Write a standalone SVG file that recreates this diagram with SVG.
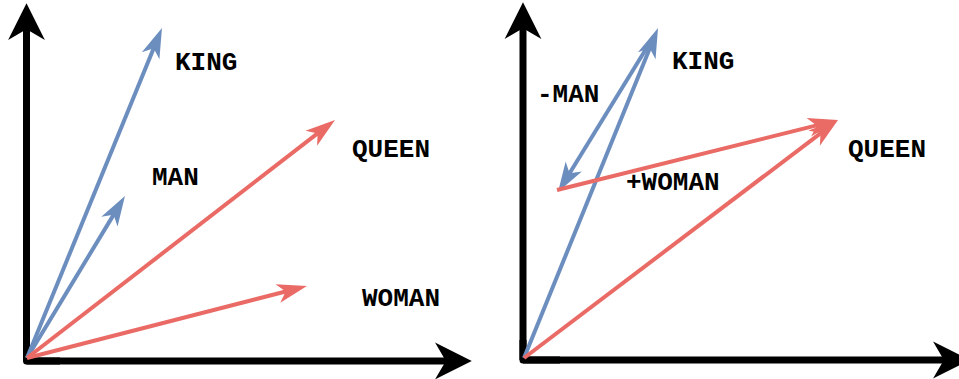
<svg xmlns="http://www.w3.org/2000/svg" width="959" height="379" viewBox="0 0 959 379">
<style>
.lbl{font-family:"Liberation Mono","Courier New",monospace;font-weight:bold;font-size:26px;fill:#000}
.axis{fill:none;stroke:#000;stroke-width:7;stroke-linejoin:round}
.blue{stroke:#6C8EBF;stroke-width:4;fill:none}
.red{stroke:#EA6B66;stroke-width:4;fill:none}
</style>
<defs>
<marker id="axHead" markerUnits="userSpaceOnUse" orient="auto" markerWidth="40" markerHeight="40" refX="12" refY="0" viewBox="-1 -18 37 36" overflow="visible">
<path d="M34,0 L0,-17 L10,0 L0,17 Z" fill="#000"/>
</marker>
<marker id="bHead" markerUnits="userSpaceOnUse" orient="auto" markerWidth="32" markerHeight="22" refX="10" refY="0" viewBox="-1 -11 32 22" overflow="visible">
<path d="M30,0 L0,-9.5 L8,0 L0,9.5 Z" fill="#6C8EBF"/>
</marker>
<marker id="rHead" markerUnits="userSpaceOnUse" orient="auto" markerWidth="32" markerHeight="22" refX="10" refY="0" viewBox="-1 -11 32 22" overflow="visible">
<path d="M30,0 L0,-9.5 L8,0 L0,9.5 Z" fill="#EA6B66"/>
</marker>
</defs>
<g id="axes-left">
<line class="axis" x1="26.5" y1="361" x2="26.5" y2="27" marker-end="url(#axHead)"/>
<line class="axis" x1="26.5" y1="361" x2="448" y2="361" marker-end="url(#axHead)"/>
<path class="axis" d="M26.5,340 L26.5,361 L60,361"/>
</g>
<g id="axes-right">
<line class="axis" x1="523" y1="360" x2="523" y2="26" marker-end="url(#axHead)"/>
<line class="axis" x1="523" y1="360" x2="946" y2="360" marker-end="url(#axHead)"/>
<path class="axis" d="M523,340 L523,360 L560,360"/>
</g>
<g id="connectors">
<line class="blue" x1="27" y1="358" x2="154.4" y2="46.5" marker-end="url(#bHead)"/>
<line class="blue" x1="27" y1="358" x2="114.6" y2="213.1" marker-end="url(#bHead)"/>
<line class="red" x1="27" y1="358" x2="319.2" y2="132.2" marker-end="url(#rHead)"/>
<line class="red" x1="27" y1="358" x2="287.6" y2="291" marker-end="url(#rHead)"/>
<line class="blue" x1="524" y1="358" x2="650.5" y2="46.5" marker-end="url(#bHead)"/>
<line class="blue" x1="654" y1="36" x2="568.5" y2="175" marker-end="url(#bHead)"/>
<line class="red" x1="524" y1="358" x2="822.1" y2="132.1" marker-end="url(#rHead)"/>
<line class="red" x1="557" y1="190" x2="818.6" y2="124.9" marker-end="url(#rHead)"/>
</g>
<g id="label-king-left"><text class="lbl" x="175" y="70">KING</text></g>
<g id="label-man-left"><text class="lbl" x="152" y="185">MAN</text></g>
<g id="label-queen-left"><text class="lbl" x="352" y="157">QUEEN</text></g>
<g id="label-woman-left"><text class="lbl" x="362" y="306">WOMAN</text></g>
<g id="label-king-right"><text class="lbl" x="672" y="69">KING</text></g>
<g id="label-minus-man"><text class="lbl" x="537" y="102">-MAN</text></g>
<g id="label-plus-woman"><text class="lbl" x="626" y="190">+WOMAN</text></g>
<g id="label-queen-right"><text class="lbl" x="848" y="157">QUEEN</text></g>
</svg>
